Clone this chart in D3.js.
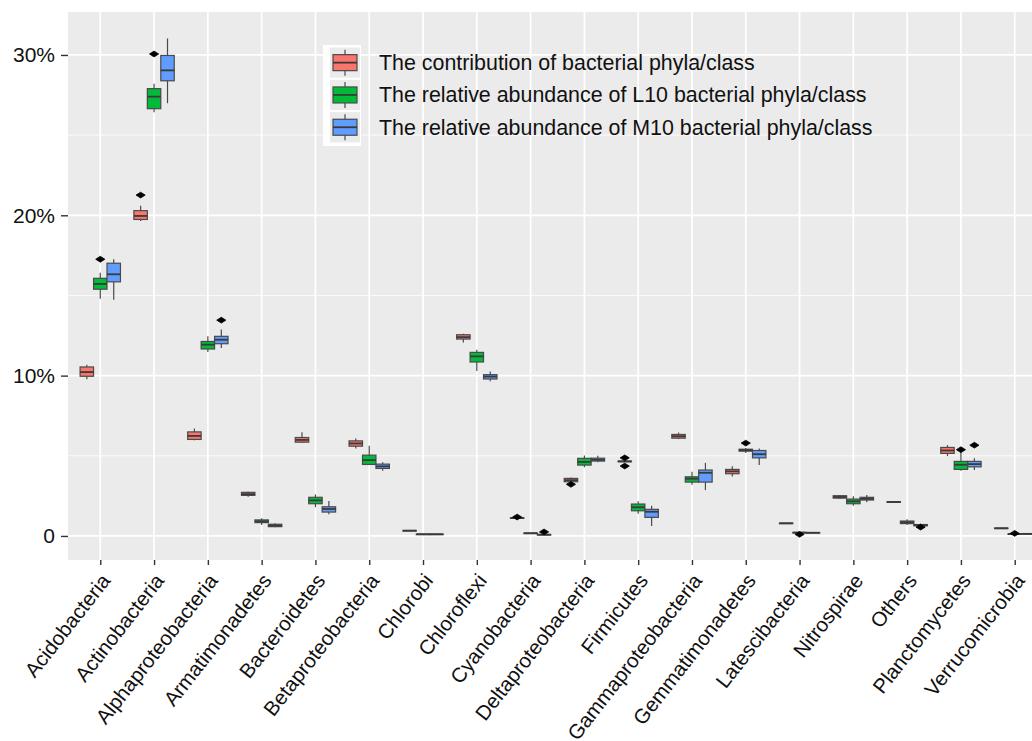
<!DOCTYPE html>
<html>
<head>
<meta charset="utf-8">
<script src="https://cdn.jsdelivr.net/npm/d3@7"></script>
<style>
  body { margin: 0; background: #fff; }
  svg { display: block; font-family: "Liberation Sans", Arial, sans-serif; }
</style>
</head>
<body>
<div id="chart"></div>
<script>
const categories = [
  "Acidobacteria", "Actinobacteria", "Alphaproteobacteria", "Armatimonadetes",
  "Bacteroidetes", "Betaproteobacteria", "Chlorobi", "Chloroflexi",
  "Cyanobacteria", "Deltaproteobacteria", "Firmicutes", "Gammaproteobacteria",
  "Gemmatimonadetes", "Latescibacteria", "Nitrospirae", "Others",
  "Planctomycetes", "Verrucomicrobia"
];

const seriesNames = [
  "The contribution of bacterial phyla/class",
  "The relative abundance of L10 bacterial phyla/class",
  "The relative abundance of M10 bacterial phyla/class"
];
const seriesColors = ["#F8766D", "#00BA38", "#619CFF"];

// [lower whisker, q1, median, q3, upper whisker] in %
const contribution = [
  [9.77, 9.96, 10.22, 10.54, 10.68],
  [19.65, 19.74, 19.96, 20.29, 20.60],
  [5.97, 6.02, 6.24, 6.49, 6.70],
  [2.45, 2.53, 2.61, 2.72, 2.76],
  [5.81, 5.85, 5.99, 6.14, 6.47],
  [5.46, 5.60, 5.77, 5.93, 6.08],
  [0.31, 0.32, 0.33, 0.34, 0.35],
  [12.07, 12.28, 12.40, 12.55, 12.61],
  [1.09, 1.10, 1.12, 1.13, 1.14],
  [3.36, 3.38, 3.48, 3.59, 3.65],
  [4.62, 4.63, 4.65, 4.67, 4.68],
  [6.04, 6.10, 6.22, 6.33, 6.45],
  [3.71, 3.88, 4.03, 4.15, 4.34],
  [0.77, 0.78, 0.79, 0.80, 0.81],
  [2.32, 2.36, 2.43, 2.51, 2.55],
  [2.08, 2.10, 2.12, 2.14, 2.16],
  [4.98, 5.15, 5.33, 5.52, 5.66],
  [0.46, 0.47, 0.48, 0.49, 0.50]
];

const abundanceL10 = [
  [14.79, 15.39, 15.72, 16.07, 16.41],
  [26.43, 26.65, 27.40, 27.90, 28.21],
  [11.47, 11.66, 11.93, 12.13, 12.46],
  [0.68, 0.83, 0.91, 1.00, 1.10],
  [1.79, 2.01, 2.22, 2.41, 2.59],
  [4.42, 4.46, 4.73, 5.04, 5.62],
  [0.10, 0.10, 0.11, 0.11, 0.12],
  [10.29, 10.85, 11.20, 11.45, 11.62],
  [0.15, 0.16, 0.17, 0.18, 0.19],
  [4.28, 4.42, 4.62, 4.84, 5.02],
  [1.39, 1.57, 1.79, 1.99, 2.16],
  [3.19, 3.36, 3.57, 3.69, 4.00],
  [5.18, 5.29, 5.35, 5.41, 5.49],
  [0.18, 0.19, 0.21, 0.22, 0.23],
  [1.89, 2.01, 2.16, 2.30, 2.47],
  [0.68, 0.77, 0.85, 0.93, 1.04],
  [4.06, 4.15, 4.44, 4.65, 5.25],
  [0.10, 0.11, 0.12, 0.13, 0.14]
];

const abundanceM10 = [
  [14.73, 15.85, 16.32, 17.01, 17.26],
  [26.99, 28.39, 29.04, 29.97, 31.03],
  [11.72, 11.99, 12.24, 12.45, 12.88],
  [0.54, 0.58, 0.65, 0.73, 0.79],
  [1.35, 1.49, 1.68, 1.82, 2.18],
  [4.06, 4.21, 4.34, 4.48, 4.59],
  [0.10, 0.10, 0.11, 0.11, 0.12],
  [9.65, 9.79, 9.94, 10.06, 10.25],
  [0.06, 0.07, 0.08, 0.09, 0.10],
  [4.60, 4.67, 4.75, 4.85, 5.00],
  [0.62, 1.16, 1.51, 1.66, 1.89],
  [2.86, 3.36, 3.94, 4.11, 4.56],
  [4.42, 4.87, 5.10, 5.33, 5.46],
  [0.18, 0.19, 0.20, 0.21, 0.22],
  [2.10, 2.24, 2.32, 2.41, 2.55],
  [0.62, 0.63, 0.68, 0.71, 0.76],
  [4.11, 4.31, 4.48, 4.65, 4.84],
  [0.11, 0.12, 0.13, 0.14, 0.15]
];

// outliers: [category index, value in %]
const contributionOutliers = [[1, 21.26], [8, 1.18], [9, 3.22], [10, 4.87], [10, 4.36]];
const l10Outliers = [[0, 17.26], [1, 30.06], [12, 5.79], [13, 0.10], [16, 5.38], [17, 0.16]];
const m10Outliers = [[2, 13.46], [8, 0.25], [15, 0.55], [16, 5.66]];

const yTicks = [0, 10, 20, 30];
const yTickLabels = ["0", "10%", "20%", "30%"];
const yMinorTicks = [5, 15, 25];

const drawChart = () => {
  const width = 1032;
  const height = 741;
  const panel = { left: 68, top: 12, right: 1047, bottom: 560 };

  const xScale = d3.scalePoint()
    .domain(categories)
    .range([panel.left, panel.right])
    .padding(0.6);
  const step = xScale.step();

  const dodge = d3.scaleBand()
    .domain([0, 1, 2])
    .range([-0.375 * step, 0.375 * step]);

  const yScale = d3.scaleLinear()
    .domain([-1.5, 32.68])
    .range([panel.bottom, panel.top]);

  const svg = d3.select("#chart")
    .append("svg")
      .attr("width", width)
      .attr("height", height);

  svg.append("rect")
    .attr("width", width)
    .attr("height", height)
    .attr("fill", "#fff");

  // panel background + grid
  svg.append("rect")
    .attr("x", panel.left)
    .attr("y", panel.top)
    .attr("width", panel.right - panel.left)
    .attr("height", panel.bottom - panel.top)
    .attr("fill", "#EBEBEB");

  svg.append("g")
    .selectAll("line")
    .data(yMinorTicks)
    .join("line")
      .attr("x1", panel.left)
      .attr("x2", panel.right)
      .attr("y1", (d) => yScale(d))
      .attr("y2", (d) => yScale(d))
      .attr("stroke", "#fff")
      .attr("stroke-width", 0.8);

  svg.append("g")
    .selectAll("line")
    .data(yTicks)
    .join("line")
      .attr("x1", panel.left)
      .attr("x2", panel.right)
      .attr("y1", (d) => yScale(d))
      .attr("y2", (d) => yScale(d))
      .attr("stroke", "#fff")
      .attr("stroke-width", 1.7);

  svg.append("g")
    .selectAll("line")
    .data(categories)
    .join("line")
      .attr("x1", (d) => xScale(d))
      .attr("x2", (d) => xScale(d))
      .attr("y1", panel.top)
      .attr("y2", panel.bottom)
      .attr("stroke", "#fff")
      .attr("stroke-width", 1.7);

  // boxplots
  const allSeries = [contribution, abundanceL10, abundanceM10];
  const allOutliers = [contributionOutliers, l10Outliers, m10Outliers];
  const boxW = dodge.bandwidth();

  allSeries.forEach((series, s) => {
    const cx = (i) => xScale(categories[i]) + dodge(s) + boxW / 2;
    const g = svg.append("g");
    const boxes = g.selectAll("g")
      .data(series)
      .join("g");

    boxes.append("line")
      .attr("x1", (d, i) => cx(i))
      .attr("x2", (d, i) => cx(i))
      .attr("y1", (d) => yScale(d[0]))
      .attr("y2", (d) => yScale(d[4]))
      .attr("stroke", "#4a4a4a")
      .attr("stroke-width", 1.2);

    boxes.append("rect")
      .attr("x", (d, i) => cx(i) - boxW / 2)
      .attr("width", boxW)
      .attr("y", (d) => yScale(d[3]))
      .attr("height", (d) => Math.max(0.5, yScale(d[1]) - yScale(d[3])))
      .attr("fill", seriesColors[s])
      .attr("stroke", "#4a4a4a")
      .attr("stroke-width", 1.2);

    boxes.append("line")
      .attr("x1", (d, i) => cx(i) - boxW / 2)
      .attr("x2", (d, i) => cx(i) + boxW / 2)
      .attr("y1", (d) => yScale(d[2]))
      .attr("y2", (d) => yScale(d[2]))
      .attr("stroke", "#3a3a3a")
      .attr("stroke-width", 1.8);

    g.selectAll("path.outlier")
      .data(allOutliers[s])
      .join("path")
        .attr("class", "outlier")
        .attr("transform", (d) => `translate(${cx(d[0])}, ${yScale(d[1])})`)
        .attr("d", "M-4.6,0 L0,-2.9 L4.6,0 L0,2.9 Z")
        .attr("fill", "#000")
        .attr("stroke", "#000")
        .attr("stroke-width", 0.8);
  });

  // y axis
  const yAxis = svg.append("g")
    .attr("transform", `translate(${panel.left}, 0)`)
    .call(d3.axisLeft(yScale)
      .tickValues(yTicks)
      .tickFormat((d, i) => yTickLabels[i])
      .tickSize(7)
      .tickPadding(6));
  yAxis.select(".domain").remove();
  yAxis.selectAll(".tick line").attr("stroke", "#333").attr("stroke-width", 1.4);
  yAxis.selectAll(".tick text")
    .attr("fill", "#111")
    .style("font-size", "21px")
    .style("font-family", "'Liberation Sans', Arial, sans-serif");

  // x axis (labels run past the bottom edge, as in the source)
  const xAxis = svg.append("g")
    .attr("transform", `translate(0, ${panel.bottom})`)
    .call(d3.axisBottom(xScale).tickSize(5));
  xAxis.select(".domain").remove();
  xAxis.selectAll(".tick line").attr("stroke", "#333").attr("stroke-width", 1.4);
  xAxis.selectAll(".tick text")
    .attr("x", 0)
    .attr("y", 0)
    .attr("dy", "0.71em")
    .attr("text-anchor", "end")
    .attr("transform", "translate(-1, 12) rotate(-52)")
    .attr("fill", "#111")
    .style("font-size", "20.5px")
    .style("font-family", "'Liberation Sans', Arial, sans-serif");

  // legend
  const legend = svg.append("g");
  const keySize = 32.3;
  const keyTop = 46.5;
  legend.append("rect")
    .attr("x", 323)
    .attr("y", 45)
    .attr("width", 38)
    .attr("height", 101)
    .attr("fill", "#fff");

  const keys = legend.selectAll("g")
    .data(seriesNames)
    .join("g")
      .attr("transform", (d, i) => `translate(345, ${keyTop + keySize * (i + 0.5)})`);

  keys.append("rect")
    .attr("x", -15)
    .attr("y", -keySize / 2 + 1)
    .attr("width", 30)
    .attr("height", keySize - 2)
    .attr("fill", "#EBEBEB");

  keys.append("line")
    .attr("y1", -13)
    .attr("y2", 13)
    .attr("stroke", "#4a4a4a")
    .attr("stroke-width", 1.2);

  keys.append("rect")
    .attr("x", -12)
    .attr("y", -8)
    .attr("width", 24)
    .attr("height", 16)
    .attr("fill", (d, i) => seriesColors[i])
    .attr("stroke", "#4a4a4a")
    .attr("stroke-width", 1.2);

  keys.append("line")
    .attr("x1", -12)
    .attr("x2", 12)
    .attr("stroke", "#3a3a3a")
    .attr("stroke-width", 1.8);

  keys.append("text")
    .attr("x", 34)
    .attr("dy", "0.35em")
    .attr("fill", "#111")
    .style("font-size", "21.4px")
    .text((d) => d);
};

drawChart();
</script>
</body>
</html>
